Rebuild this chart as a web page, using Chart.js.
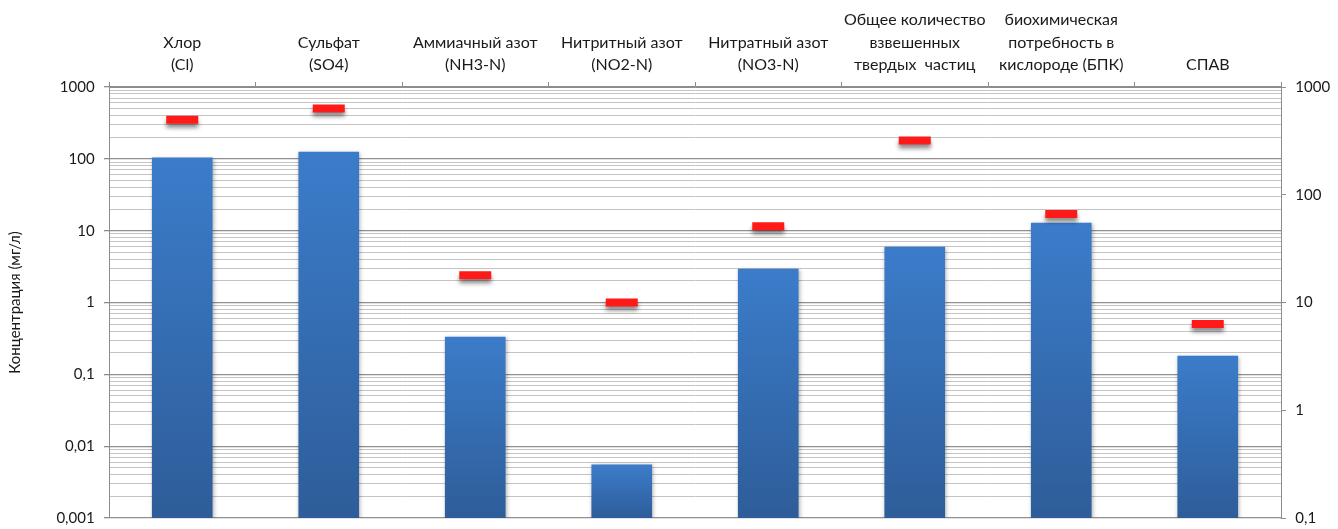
<!DOCTYPE html>
<html>
<head>
<meta charset="utf-8">
<script src="https://cdn.jsdelivr.net/npm/chart.js@4/dist/chart.umd.min.js"></script>
<style>
  html, body { margin: 0; padding: 0; background: #fff; overflow: hidden; }
  /* the layout keeps ~24px under the plot, so the canvas runs 13px past the window */
  #wrap { width: 1338px; height: 529px; overflow: hidden; }
</style>
</head>
<body>
<div id="wrap"><canvas id="myChart" width="1338" height="542"></canvas></div>
<script>
const categories = [
  ["Хлор", "(Cl)"],
  ["Сульфат", "(SO4)"],
  ["Аммиачный азот", "(NH3-N)"],
  ["Нитритный азот", "(NO2-N)"],
  ["Нитратный азот", "(NO3-N)"],
  ["Общее количество", "взвешенных", "твердых  частиц"],
  ["биохимическая", "потребность в", "кислороде (БПК)"],
  ["СПАВ"],
];
const concentrations = [103, 124, 0.33, 0.0055, 2.93, 5.9, 12.8, 0.18];
const limits = [350, 500, 2.4, 1.0, 11.5, 180, 17, 0.5];
const leftTicks = [0.001, 0.01, 0.1, 1, 10, 100, 1000];
const rightTicks = [0.1, 1, 10, 100, 1000];

const fontFamily = "Lato, 'Noto Sans', sans-serif";
const textColor = "#1a1a1a";
// gap between tick mark and label
const gap = "\u2002\u2009";

function isDecade(v) {
  const l = Math.log10(v);
  return Math.abs(l - Math.round(l)) < 1e-9;
}

function fmt(v) {
  return String(v).replace(".", ",");
}

// gridlines at 1..9 of every decade
function minorTicks(min, max) {
  const out = [];
  for (let e = Math.round(Math.log10(min)); e < Math.round(Math.log10(max)); e++) {
    for (let m = 1; m <= 9; m++) {
      out.push({ value: Number((m * Math.pow(10, e)).toPrecision(3)) });
    }
  }
  out.push({ value: max });
  return out;
}

const shadowPlugin = {
  id: "shadows",
  beforeDatasetDraw(chart, args) {
    const c = chart.ctx;
    c.save();
    if (args.meta.type === "line") {
      c.shadowColor = "rgba(0,0,0,0.45)";
      c.shadowBlur = 4;
      c.shadowOffsetY = 4;
    } else {
      c.shadowColor = "rgba(0,0,0,0.3)";
      c.shadowBlur = 4;
      c.shadowOffsetX = 1;
      c.shadowOffsetY = 1;
    }
  },
  afterDatasetDraw(chart) {
    chart.ctx.restore();
  },
};

const ctx = document.getElementById("myChart");

new Chart(ctx, {
  type: "bar",
  plugins: [shadowPlugin],
  data: {
    labels: categories,
    datasets: [
      {
        type: "line",
        label: "ПДК",
        data: limits,
        yAxisID: "y",
        showLine: false,
        pointStyle: "line",
        pointRadius: 16,
        pointHoverRadius: 16,
        pointBorderWidth: 8,
        pointBorderColor: "#ff1a1a",
        borderColor: "#ff1a1a",
        order: 0,
      },
      {
        label: "Концентрация",
        data: concentrations,
        yAxisID: "y",
        barThickness: 60,
        order: 1,
        backgroundColor: (c) => {
          const chart = c.chart;
          const area = chart.chartArea;
          if (!area || c.raw === undefined) return "#3a7bc8";
          const top = chart.scales.y.getPixelForValue(c.raw);
          const g = chart.ctx.createLinearGradient(0, top, 0, area.bottom);
          g.addColorStop(0, "#3b7cca");
          g.addColorStop(1, "#2e5d99");
          return g;
        },
      },
    ],
  },
  options: {
    responsive: false,
    animation: false,
    layout: { padding: { top: 0, bottom: 11, left: 0, right: 0 } },
    plugins: {
      legend: { display: false },
      tooltip: { enabled: false },
    },
    scales: {
      x: {
        position: "top",
        offset: true,
        grid: {
          offset: true,
          drawOnChartArea: false,
          tickLength: 5,
          color: "#8c8c8c",
        },
        border: { color: "#8c8c8c" },
        ticks: {
          autoSkip: false,
          maxRotation: 0,
          padding: 6,
          color: textColor,
          font: { family: fontFamily, size: 16, lineHeight: 1.4 },
        },
        afterFit: (s) => { s.height = 87; },
      },
      y: {
        type: "logarithmic",
        position: "left",
        min: leftTicks[0],
        max: leftTicks[leftTicks.length - 1],
        afterBuildTicks: (s) => { s.ticks = minorTicks(s.min, s.max); },
        afterFit: (s) => { s.width = 109; },
        title: {
          display: true,
          text: "Концентрация (мг/л)",
          color: textColor,
          font: { family: fontFamily, size: 15 },
          padding: { top: 6, bottom: 4 },
        },
        grid: {
          tickLength: 5,
          color: (c) => (c.tick && isDecade(c.tick.value) ? "#8f8f8f" : "#c4c4c4"),
          lineWidth: (c) => (c.tick && isDecade(c.tick.value) ? 1.3 : 1),
          tickColor: (c) => (c.tick && isDecade(c.tick.value) ? "#8f8f8f" : "rgba(0,0,0,0)"),
        },
        border: { color: "#8c8c8c" },
        ticks: {
          autoSkip: false,
          padding: 0,
          color: textColor,
          font: { family: fontFamily, size: 15 },
          callback: (v) => (isDecade(v) && leftTicks.includes(v) ? fmt(v) + gap : ""),
        },
      },
      y2: {
        type: "logarithmic",
        position: "right",
        min: rightTicks[0],
        max: rightTicks[rightTicks.length - 1],
        afterBuildTicks: (s) => { s.ticks = rightTicks.map((v) => ({ value: v })); },
        afterFit: (s) => { s.width = 57; },
        grid: {
          drawOnChartArea: false,
          tickLength: 5,
          color: "#8f8f8f",
        },
        border: { color: "#8c8c8c" },
        ticks: {
          autoSkip: false,
          padding: 0,
          color: textColor,
          font: { family: fontFamily, size: 15 },
          callback: (v) => gap + fmt(v),
        },
      },
    },
  },
});
</script>
</body>
</html>
